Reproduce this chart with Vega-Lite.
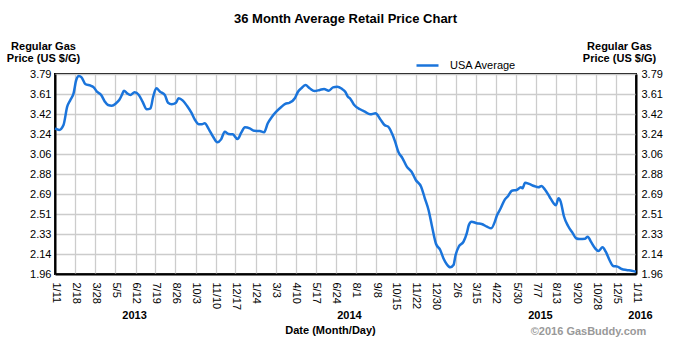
{
  "$schema": "https://vega.github.io/schema/vega-lite/v6.json",
  "width": 581,
  "height": 200,
  "autosize": {"type": "none"},
  "padding": {"left": 55, "top": 74, "right": 61, "bottom": 87},
  "background": "white",
  "title": {"text": "36 Month Average Retail Price Chart", "fontSize": 13, "fontWeight": "bold", "font": "Liberation Sans", "color": "#000000", "frame": "group", "anchor": "middle", "baseline": "alphabetic", "offset": 4},
  "config": {
    "font": "Liberation Sans",
    "view": {"stroke": "#000000", "strokeWidth": 2},
    "axis": {"labelFont": "Liberation Sans", "titleFont": "Liberation Sans", "labelColor": "#000000", "titleColor": "#000000", "labelFontSize": 11, "titleFontSize": 11, "titleFontWeight": "bold"}
  },
  "data": {"values": [
    {"date": "2013-01-11", "price": 3.293},
    {"date": "2013-01-19", "price": 3.278},
    {"date": "2013-01-27", "price": 3.323},
    {"date": "2013-02-03", "price": 3.491},
    {"date": "2013-02-09", "price": 3.552},
    {"date": "2013-02-15", "price": 3.613},
    {"date": "2013-02-20", "price": 3.735},
    {"date": "2013-02-25", "price": 3.772},
    {"date": "2013-03-02", "price": 3.760},
    {"date": "2013-03-09", "price": 3.699},
    {"date": "2013-03-19", "price": 3.683},
    {"date": "2013-03-25", "price": 3.668},
    {"date": "2013-03-31", "price": 3.628},
    {"date": "2013-04-08", "price": 3.598},
    {"date": "2013-04-15", "price": 3.537},
    {"date": "2013-04-21", "price": 3.506},
    {"date": "2013-04-28", "price": 3.500},
    {"date": "2013-05-06", "price": 3.522},
    {"date": "2013-05-12", "price": 3.552},
    {"date": "2013-05-17", "price": 3.598},
    {"date": "2013-05-21", "price": 3.637},
    {"date": "2013-05-27", "price": 3.613},
    {"date": "2013-06-02", "price": 3.598},
    {"date": "2013-06-10", "price": 3.623},
    {"date": "2013-06-18", "price": 3.598},
    {"date": "2013-06-25", "price": 3.537},
    {"date": "2013-07-03", "price": 3.467},
    {"date": "2013-07-10", "price": 3.476},
    {"date": "2013-07-15", "price": 3.582},
    {"date": "2013-07-21", "price": 3.659},
    {"date": "2013-07-28", "price": 3.628},
    {"date": "2013-08-06", "price": 3.598},
    {"date": "2013-08-12", "price": 3.527},
    {"date": "2013-08-19", "price": 3.513},
    {"date": "2013-08-27", "price": 3.527},
    {"date": "2013-09-01", "price": 3.568},
    {"date": "2013-09-09", "price": 3.546},
    {"date": "2013-09-17", "price": 3.497},
    {"date": "2013-09-25", "price": 3.436},
    {"date": "2013-10-02", "price": 3.369},
    {"date": "2013-10-09", "price": 3.330},
    {"date": "2013-10-15", "price": 3.330},
    {"date": "2013-10-20", "price": 3.339},
    {"date": "2013-10-28", "price": 3.284},
    {"date": "2013-11-05", "price": 3.216},
    {"date": "2013-11-13", "price": 3.165},
    {"date": "2013-11-20", "price": 3.192},
    {"date": "2013-11-27", "price": 3.262},
    {"date": "2013-12-04", "price": 3.241},
    {"date": "2013-12-12", "price": 3.238},
    {"date": "2013-12-21", "price": 3.195},
    {"date": "2013-12-28", "price": 3.253},
    {"date": "2014-01-04", "price": 3.302},
    {"date": "2014-01-13", "price": 3.293},
    {"date": "2014-01-21", "price": 3.271},
    {"date": "2014-02-01", "price": 3.268},
    {"date": "2014-02-09", "price": 3.257},
    {"date": "2014-02-16", "price": 3.339},
    {"date": "2014-02-24", "price": 3.399},
    {"date": "2014-03-04", "price": 3.445},
    {"date": "2014-03-14", "price": 3.491},
    {"date": "2014-03-21", "price": 3.516},
    {"date": "2014-03-29", "price": 3.527},
    {"date": "2014-04-08", "price": 3.568},
    {"date": "2014-04-14", "price": 3.628},
    {"date": "2014-04-20", "price": 3.659},
    {"date": "2014-04-28", "price": 3.689},
    {"date": "2014-05-06", "price": 3.659},
    {"date": "2014-05-15", "price": 3.634},
    {"date": "2014-05-25", "price": 3.644},
    {"date": "2014-06-02", "price": 3.653},
    {"date": "2014-06-11", "price": 3.637},
    {"date": "2014-06-19", "price": 3.668},
    {"date": "2014-06-27", "price": 3.674},
    {"date": "2014-07-06", "price": 3.653},
    {"date": "2014-07-12", "price": 3.628},
    {"date": "2014-07-17", "price": 3.582},
    {"date": "2014-07-21", "price": 3.568},
    {"date": "2014-07-29", "price": 3.506},
    {"date": "2014-08-09", "price": 3.467},
    {"date": "2014-08-18", "price": 3.445},
    {"date": "2014-08-28", "price": 3.421},
    {"date": "2014-09-07", "price": 3.430},
    {"date": "2014-09-16", "price": 3.376},
    {"date": "2014-09-24", "price": 3.323},
    {"date": "2014-10-01", "price": 3.308},
    {"date": "2014-10-08", "price": 3.247},
    {"date": "2014-10-14", "price": 3.171},
    {"date": "2014-10-20", "price": 3.079},
    {"date": "2014-10-28", "price": 3.019},
    {"date": "2014-11-05", "price": 2.942},
    {"date": "2014-11-14", "price": 2.896},
    {"date": "2014-11-22", "price": 2.820},
    {"date": "2014-12-02", "price": 2.759},
    {"date": "2014-12-09", "price": 2.653},
    {"date": "2014-12-16", "price": 2.546},
    {"date": "2014-12-22", "price": 2.409},
    {"date": "2014-12-30", "price": 2.237},
    {"date": "2015-01-07", "price": 2.180},
    {"date": "2015-01-13", "price": 2.104},
    {"date": "2015-01-19", "price": 2.052},
    {"date": "2015-01-26", "price": 2.021},
    {"date": "2015-02-01", "price": 2.042},
    {"date": "2015-02-05", "price": 2.134},
    {"date": "2015-02-11", "price": 2.210},
    {"date": "2015-02-20", "price": 2.256},
    {"date": "2015-02-26", "price": 2.332},
    {"date": "2015-03-02", "price": 2.408},
    {"date": "2015-03-07", "price": 2.439},
    {"date": "2015-03-17", "price": 2.424},
    {"date": "2015-03-26", "price": 2.418},
    {"date": "2015-04-05", "price": 2.393},
    {"date": "2015-04-13", "price": 2.378},
    {"date": "2015-04-20", "price": 2.439},
    {"date": "2015-04-23", "price": 2.484},
    {"date": "2015-05-01", "price": 2.561},
    {"date": "2015-05-09", "price": 2.643},
    {"date": "2015-05-15", "price": 2.674},
    {"date": "2015-05-22", "price": 2.722},
    {"date": "2015-05-31", "price": 2.729},
    {"date": "2015-06-08", "price": 2.753},
    {"date": "2015-06-11", "price": 2.744},
    {"date": "2015-06-16", "price": 2.795},
    {"date": "2015-06-24", "price": 2.784},
    {"date": "2015-07-03", "price": 2.765},
    {"date": "2015-07-11", "price": 2.753},
    {"date": "2015-07-17", "price": 2.765},
    {"date": "2015-07-23", "price": 2.735},
    {"date": "2015-08-01", "price": 2.667},
    {"date": "2015-08-08", "price": 2.612},
    {"date": "2015-08-13", "price": 2.589},
    {"date": "2015-08-18", "price": 2.653},
    {"date": "2015-08-22", "price": 2.622},
    {"date": "2015-08-28", "price": 2.491},
    {"date": "2015-09-05", "price": 2.399},
    {"date": "2015-09-14", "price": 2.332},
    {"date": "2015-09-20", "price": 2.287},
    {"date": "2015-09-27", "price": 2.280},
    {"date": "2015-10-07", "price": 2.283},
    {"date": "2015-10-12", "price": 2.301},
    {"date": "2015-10-18", "price": 2.256},
    {"date": "2015-10-26", "price": 2.195},
    {"date": "2015-11-01", "price": 2.170},
    {"date": "2015-11-09", "price": 2.204},
    {"date": "2015-11-15", "price": 2.164},
    {"date": "2015-11-22", "price": 2.088},
    {"date": "2015-11-29", "price": 2.033},
    {"date": "2015-12-07", "price": 2.027},
    {"date": "2015-12-15", "price": 2.006},
    {"date": "2015-12-24", "price": 1.997},
    {"date": "2016-01-03", "price": 1.990},
    {"date": "2016-01-11", "price": 1.981}
  ]},
  "layer": [
    {
      "mark": {"type": "line", "strokeWidth": 2.5, "interpolate": "monotone"},
      "encoding": {
        "x": {
          "field": "date", "type": "temporal",
          "scale": {"type": "utc", "domain": [{"year": 2013, "month": 1, "date": 11, "utc": true}, {"year": 2016, "month": 1, "date": 11, "utc": true}], "nice": false},
          "axis": {
            "orient": "bottom",
            "values": [
              {"year": 2013, "month": 1, "date": 11, "utc": true},
              {"year": 2013, "month": 2, "date": 18, "utc": true},
              {"year": 2013, "month": 3, "date": 28, "utc": true},
              {"year": 2013, "month": 5, "date": 5, "utc": true},
              {"year": 2013, "month": 6, "date": 12, "utc": true},
              {"year": 2013, "month": 7, "date": 19, "utc": true},
              {"year": 2013, "month": 8, "date": 26, "utc": true},
              {"year": 2013, "month": 10, "date": 3, "utc": true},
              {"year": 2013, "month": 11, "date": 10, "utc": true},
              {"year": 2013, "month": 12, "date": 17, "utc": true},
              {"year": 2014, "month": 1, "date": 24, "utc": true},
              {"year": 2014, "month": 3, "date": 3, "utc": true},
              {"year": 2014, "month": 4, "date": 10, "utc": true},
              {"year": 2014, "month": 5, "date": 17, "utc": true},
              {"year": 2014, "month": 6, "date": 24, "utc": true},
              {"year": 2014, "month": 8, "date": 1, "utc": true},
              {"year": 2014, "month": 9, "date": 8, "utc": true},
              {"year": 2014, "month": 10, "date": 15, "utc": true},
              {"year": 2014, "month": 11, "date": 22, "utc": true},
              {"year": 2014, "month": 12, "date": 30, "utc": true},
              {"year": 2015, "month": 2, "date": 6, "utc": true},
              {"year": 2015, "month": 3, "date": 15, "utc": true},
              {"year": 2015, "month": 4, "date": 22, "utc": true},
              {"year": 2015, "month": 5, "date": 30, "utc": true},
              {"year": 2015, "month": 7, "date": 7, "utc": true},
              {"year": 2015, "month": 8, "date": 13, "utc": true},
              {"year": 2015, "month": 9, "date": 20, "utc": true},
              {"year": 2015, "month": 10, "date": 28, "utc": true},
              {"year": 2015, "month": 12, "date": 5, "utc": true},
              {"year": 2016, "month": 1, "date": 11, "utc": true}
            ],
            "format": "%-m/%-d",
            "labelAngle": 90, "labelAlign": "left", "labelBaseline": "middle", "labelPadding": 8,
            "labelFlush": false, "labelOverlap": false, "labelBound": false,
            "ticks": false, "grid": true, "gridColor": "#cccccc", "gridWidth": 1.3,
            "domainColor": "#000000", "domainWidth": 2,
            "title": "Date (Month/Day)", "titleX": 275, "titleY": 59, "titleAlign": "center", "titleBaseline": "alphabetic", "titleAngle": 0
          }
        },
        "y": {
          "field": "price", "type": "quantitative",
          "scale": {"domain": [1.96, 3.79], "nice": false, "zero": false},
          "axis": {
            "orient": "left",
            "values": [1.96, 2.143, 2.326, 2.509, 2.692, 2.875, 3.058, 3.241, 3.424, 3.607, 3.79],
            "format": ".2f", "ticks": false, "labelPadding": 4,
            "grid": true, "gridColor": "#cccccc", "gridWidth": 1.3,
            "domainColor": "#000000", "domainWidth": 2,
            "title": ["Regular Gas", "Price (US $/G)"], "titleAngle": 0, "titleX": -12, "titleY": -25,
            "titleAlign": "center", "titleBaseline": "alphabetic", "titleLineHeight": 12
          }
        },
        "color": {
          "datum": "USA Average", "type": "nominal",
          "scale": {"range": ["#1a74db"]},
          "legend": {"title": null, "orient": "none", "legendX": 360, "legendY": -21, "symbolType": "stroke", "symbolSize": 484, "symbolStrokeWidth": 2.5, "labelFontSize": 11, "labelOffset": 10, "padding": 0, "labelColor": "#000000", "labelFont": "Liberation Sans"}
        }
      }
    },
    {
      "mark": {"type": "line", "opacity": 0},
      "encoding": {
        "x": {
          "field": "date", "type": "temporal",
          "scale": {"type": "utc", "domain": [{"year": 2013, "month": 1, "date": 11, "utc": true}, {"year": 2016, "month": 1, "date": 11, "utc": true}], "nice": false},
          "axis": {
            "orient": "bottom",
            "values": [
              {"year": 2013, "month": 6, "date": 9, "utc": true},
              {"year": 2014, "month": 7, "date": 19, "utc": true},
              {"year": 2015, "month": 7, "date": 14, "utc": true},
              {"year": 2016, "month": 1, "date": 11, "utc": true}
            ],
            "format": "%Y",
            "labelAngle": 0, "labelAlign": "center", "labelBaseline": "top", "labelPadding": 35,
            "labelFontWeight": "bold", "labelFlush": false, "labelOverlap": false, "labelBound": false,
            "labelOffset": {"condition": {"test": "datum.value > 1450000000000", "value": 4}, "value": 0},
            "domain": false, "ticks": false, "grid": false,
            "title": "©2016 GasBuddy.com", "titleColor": "#999999", "titleX": 533, "titleY": 60,
            "titleAlign": "center", "titleBaseline": "alphabetic", "titleAngle": 0
          }
        },
        "y": {
          "field": "price", "type": "quantitative",
          "scale": {"domain": [1.96, 3.79], "nice": false, "zero": false},
          "axis": {
            "orient": "right",
            "values": [1.96, 2.143, 2.326, 2.509, 2.692, 2.875, 3.058, 3.241, 3.424, 3.607, 3.79],
            "format": ".2f", "ticks": false, "labelPadding": 5,
            "grid": false, "domainColor": "#000000", "domainWidth": 2,
            "title": ["Regular Gas", "Price (US $/G)"], "titleAngle": 0, "titleX": -17, "titleY": -25,
            "titleAlign": "center", "titleBaseline": "alphabetic", "titleLineHeight": 12
          }
        }
      }
    }
  ],
  "resolve": {"axis": {"x": "independent", "y": "independent"}}
}
